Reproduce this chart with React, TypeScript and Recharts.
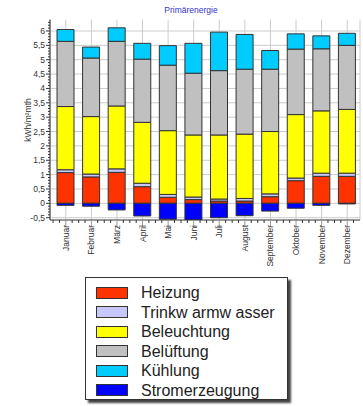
import React from 'react';
import { BarChart, Bar, XAxis, YAxis, CartesianGrid, Legend } from 'recharts';

const months = ['Januar', 'Februar', 'März', 'April', 'Mai', 'Juni', 'Juli', 'August', 'September', 'Oktober', 'November', 'Dezember'];
const heizung = [1.07, 0.92, 1.08, 0.58, 0.21, 0.13, 0.08, 0.08, 0.23, 0.79, 0.94, 0.94];
const trinkwarmwasser = [0.10, 0.10, 0.12, 0.12, 0.10, 0.09, 0.07, 0.09, 0.10, 0.09, 0.11, 0.11];
const beleuchtung = [2.20, 2.00, 2.19, 2.12, 2.22, 2.16, 2.23, 2.24, 2.17, 2.21, 2.17, 2.22];
const belueftung = [2.27, 2.04, 2.25, 2.20, 2.28, 2.15, 2.24, 2.26, 2.17, 2.28, 2.16, 2.23];
const kuehlung = [0.41, 0.38, 0.47, 0.55, 0.68, 1.04, 1.34, 1.21, 0.65, 0.53, 0.45, 0.42];
const stromerzeugung = [-0.07, -0.10, -0.23, -0.44, -0.55, -0.58, -0.50, -0.43, -0.27, -0.17, -0.07, -0.02];

const majorTicks = [-0.5, 0, 0.5, 1, 1.5, 2, 2.5, 3, 3.5, 4, 4.5, 5, 5.5, 6];
const minorTicks = Array.from({ length: 70 }, (_, i) => Math.round((-0.5 + i * 0.1) * 10) / 10).filter((v) => v <= 6.3);
const yDomain = [-0.58, 6.4];

const series = [
  { key: 'heizung', name: 'Heizung', color: '#FF3300', values: heizung },
  { key: 'tww', name: 'Trinkw armw asser', color: '#C8C8FF', values: trinkwarmwasser },
  { key: 'beleuchtung', name: 'Beleuchtung', color: '#FFFF00', values: beleuchtung },
  { key: 'belueftung', name: 'Belüftung', color: '#C0C0C0', values: belueftung },
  { key: 'kuehlung', name: 'Kühlung', color: '#00CCFF', values: kuehlung },
  { key: 'strom', name: 'Stromerzeugung', color: '#0000FF', values: stromerzeugung },
];

const data = months.map((m, i) => {
  const row: Record<string, any> = { month: m };
  series.forEach((s) => { row[s.key] = s.values[i]; });
  return row;
});

const FONT = '"Liberation Sans", Arial, sans-serif';

const XTick = (props: any) => {
  const { x, y, payload } = props;
  const band = 25.4;
  const axisY = y - 9;
  const minor = [-band / 2, -band / 4, band / 4];
  return (
    <g>
      {minor.map((dx, i) => (
        <line key={i} x1={x + dx} x2={x + dx} y1={axisY} y2={axisY + 3} stroke="#333" strokeWidth={1} />
      ))}
      <g transform={`translate(${x},${y})`}>
        <text transform="rotate(-90)" x={4} y={3} textAnchor="end" fontSize={8.5} fill="#333" fontFamily={FONT}>
          {payload.value}
        </text>
      </g>
    </g>
  );
};

const YTick = (props: any) => {
  const { x, y, payload } = props;
  const v = payload.value;
  const isMajor = Math.abs(v * 2 - Math.round(v * 2)) < 1e-6;
  return (
    <g>
      <line x1={x - (isMajor ? 4 : 2)} x2={x} y1={y} y2={y} stroke="#333" strokeWidth={1} />
      {isMajor && (
        <text x={x - 5} y={y + 3} textAnchor="end" fontSize={8.5} fill="#333" fontFamily={FONT}>
          {String(v).replace('.', ',')}
        </text>
      )}
    </g>
  );
};

const LegendBox = () => (
  <div
    style={{
      width: 203,
      height: 123,
      border: '1px solid #333',
      boxShadow: '3px 3px 2px #444',
      background: '#fff',
      boxSizing: 'border-box',
      paddingTop: 5,
      fontFamily: FONT,
    }}
  >
    {series.map((s) => (
      <div key={s.key} style={{ display: 'flex', alignItems: 'center', height: 19.5 }}>
        <div style={{ width: 32, height: 12, background: s.color, border: '1px solid #333', marginLeft: 10, boxSizing: 'border-box' }} />
        <span style={{ marginLeft: 13, fontSize: 16, color: '#222', lineHeight: '19px' }}>{s.name}</span>
      </div>
    ))}
  </div>
);

export default function App() {
  return (
    <div style={{ position: 'absolute', left: 0, top: 0, width: 363, height: 406, background: '#fff' }}>
      <div
        style={{
          position: 'absolute',
          left: 0,
          width: 382,
          top: 5,
          textAlign: 'center',
          fontSize: 8.5,
          color: '#3333CC',
          fontFamily: FONT,
        }}
      >
        Primärenergie
      </div>
      <BarChart
        width={363}
        height={406}
        data={data}
        stackOffset="sign"
        margin={{ top: 19.5, right: 3, left: 0, bottom: 126 }}
        barSize={17}
      >
        <CartesianGrid
          stroke="#cccccc"
          horizontalCoordinatesGenerator={({ offset }: any) =>
            majorTicks.map((v) => offset.top + ((yDomain[1] - v) / (yDomain[1] - yDomain[0])) * offset.height)
          }
        />
        <XAxis
          dataKey="month"
          interval={0}
          height={60}
          tick={<XTick />}
          tickSize={7}
          tickLine={{ stroke: '#999' }}
          axisLine={{ stroke: '#333' }}
          padding={{ left: 3, right: 0 }}
        />
        <XAxis xAxisId="top" orientation="top" height={0} tick={false} tickLine={false} axisLine={{ stroke: '#888' }} dataKey="month" />
        <YAxis
          width={50}
          domain={yDomain}
          ticks={minorTicks}
          interval={0}
          allowDataOverflow
          tick={<YTick />}
          tickLine={false}
          tickSize={0}
          tickMargin={0}
          axisLine={{ stroke: '#333' }}
          label={{
            content: () => (
              <text transform="translate(31,120) rotate(-90)" textAnchor="middle" fontSize={8.5} fill="#333" fontFamily={FONT}>
                kWh/m²mth
              </text>
            ),
          }}
        />
        <YAxis yAxisId="right" orientation="right" width={0} tick={false} tickLine={false} axisLine={{ stroke: '#888' }} />
        {series.map((s) => (
          <Bar
            key={s.key}
            dataKey={s.key}
            name={s.name}
            stackId="a"
            fill={s.color}
            stroke="#333"
            strokeWidth={1}
            isAnimationActive={false}
          />
        ))}
        <Legend
          verticalAlign="middle"
          align="center"
          layout="horizontal"
          content={<LegendBox />}
          wrapperStyle={{ position: 'absolute', left: 85, top: 277, width: 206, height: 126 }}
        />
      </BarChart>
    </div>
  );
}
